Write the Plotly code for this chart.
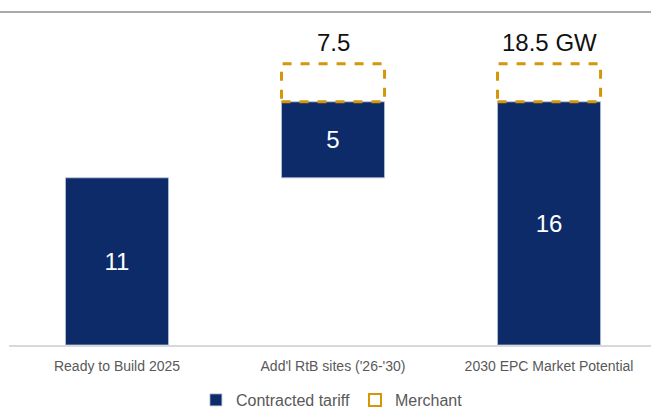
import plotly.graph_objects as go

# Pipeline capacity (GW)
categories = ["Ready to Build 2025", "Add'l RtB sites ('26-'30)", "2030 EPC Market Potential"]
contracted = [11, 5, 16]
contracted_base = [0, 11, 0]
merchant = [0, 2.5, 2.5]
total_labels = ["", "7.5", "18.5 GW"]

NAVY = "#0E2B69"
GOLD = "#D4960A"
FONT = "Liberation Sans, Arial, sans-serif"
BAR_W = 0.477

xs = list(range(len(categories)))

fig = go.Figure()

fig.add_trace(go.Bar(
    x=xs, y=contracted, base=contracted_base, width=BAR_W,
    name="Contracted tariff",
    marker=dict(color=NAVY, line=dict(color="#b9c4db", width=0.8)),
    text=[f"{v:g}" for v in contracted],
    textposition="inside", insidetextanchor="middle",
    textfont=dict(family=FONT, size=24, color="white"),
    hoverinfo="skip",
))

# Merchant upside drawn as dashed open boxes on top of the contracted bars
for i, m in enumerate(merchant):
    if m <= 0:
        continue
    y0 = contracted_base[i] + contracted[i]
    y1 = y0 + m
    x0, x1 = xs[i] - BAR_W / 2, xs[i] + BAR_W / 2
    fig.add_trace(go.Scatter(
        x=[x0, x1, x1, x0, x0], y=[y0, y0, y1, y1, y0],
        mode="lines",
        line=dict(color=GOLD, width=3, dash="dash"),
        showlegend=False, hoverinfo="skip",
    ))

# Legend key for the merchant boxes
fig.add_trace(go.Bar(
    x=[None], y=[None], name="Merchant",
    marker=dict(color="white", line=dict(color=GOLD, width=2)),
    hoverinfo="skip",
))

# Totals above the stacks
for i, lbl in enumerate(total_labels):
    if not lbl:
        continue
    top = contracted_base[i] + contracted[i] + merchant[i]
    fig.add_annotation(
        x=xs[i], y=top, text=lbl, showarrow=False,
        yanchor="middle", yshift=21,
        font=dict(family=FONT, size=24, color="#111111"),
    )

# Rule under the page heading
fig.add_shape(type="line", xref="paper", yref="paper",
              x0=-9 / 642, x1=1.0, y0=(345 - 12) / 325, y1=(345 - 12) / 325,
              line=dict(color="#8c8c8c", width=1.5))

fig.update_layout(
    width=651, height=409,
    margin=dict(l=9, r=0, t=20, b=64, autoexpand=False),
    plot_bgcolor="white", paper_bgcolor="white",
    barmode="overlay",
    showlegend=True,
    legend=dict(orientation="h", x=0.503, xanchor="center",
                yref="container", y=9 / 409, yanchor="middle",
                font=dict(family=FONT, size=16, color="#595959"),
                itemwidth=30, tracegroupgap=0),
    xaxis=dict(range=[-0.5, 2.472], tickvals=xs, ticktext=categories,
               showgrid=False, zeroline=False, automargin=False,
               showline=True, linecolor="#d9d9d9", linewidth=2,
               ticks="outside", ticklen=7, tickcolor="rgba(0,0,0,0)",
               tickfont=dict(family=FONT, size=14, color="#595959")),
    yaxis=dict(range=[0, 325 / 15.2], visible=False, showgrid=False,
               zeroline=False, automargin=False),
)

fig.write_html("out.html")
